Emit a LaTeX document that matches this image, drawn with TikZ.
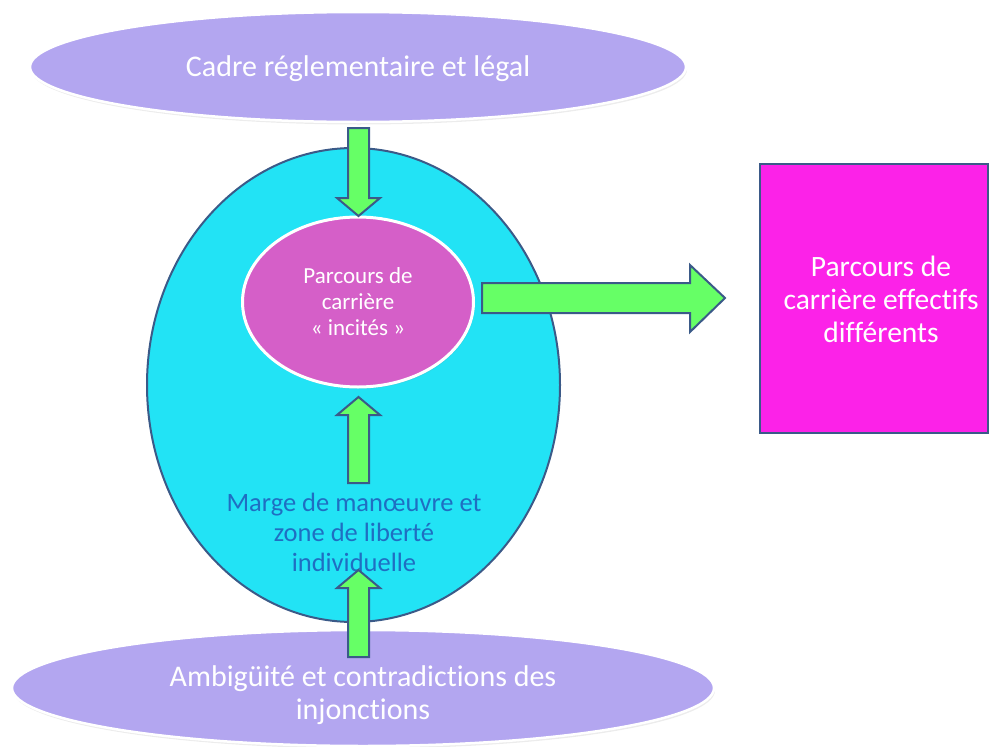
\documentclass[tikz,border=0pt]{standalone}
\usepackage{fontspec}
\setmainfont{Carlito}[Ligatures=NoCommon]
\usetikzlibrary{shapes.geometric,shadows}
\definecolor{lav}{HTML}{B3A6F0}
\definecolor{cyanf}{HTML}{22E3F5}
\definecolor{orchid}{HTML}{D55FC8}
\definecolor{greenf}{HTML}{66FF66}
\definecolor{magf}{HTML}{FC22E8}
\definecolor{edgec}{HTML}{3B5A88}
\definecolor{bluet}{HTML}{1F6EC2}
\begin{document}
\begin{tikzpicture}[x=1pt,y=-1pt,
  outerell/.style={ellipse, fill=lav, draw=white, line width=2.5pt, inner sep=0pt, text=white, align=center,
    drop shadow={opacity=0.15, shadow xshift=1pt, shadow yshift=-2.5pt}},
  blockarrow/.style={fill=greenf, draw=edgec, line width=2pt, line join=miter}]
\useasboundingbox (0,0) rectangle (989,747);
% top ellipse
\node[outerell, minimum width=656pt, minimum height=110pt,
  font=\fontsize{30}{33}\selectfont] (cadre) at (358,67) {};
\node[text=white, font=\fontsize{30}{33}\selectfont] (cadretxt) at (358,68.5) {Cadre réglementaire et légal};
% big cyan ellipse
\node[ellipse, fill=cyanf, draw=edgec, line width=2pt, inner sep=0pt,
  minimum width=413pt, minimum height=474pt] (marge) at (353.5,385) {};
% inner ellipse
\node[ellipse, fill=orchid, draw=white, line width=3pt, inner sep=0pt, text=white, align=center,
  minimum width=231pt, minimum height=170pt,
  drop shadow={opacity=0.15, shadow xshift=1pt, shadow yshift=-2pt},
  font=\fontsize{23}{26}\selectfont] (incites) at (358,302) {Parcours de\\carrière\\« incités »};
% result rectangle
\node[rectangle, fill=magf, draw=edgec, line width=2.5pt, inner sep=0pt,
  minimum width=228pt, minimum height=269pt] (res) at (874,298.5) {};
\node[text=white, align=center, font=\fontsize{29.5}{33}\selectfont] (restext) at (881,299) {Parcours de\\carrière effectifs\\différents};
% bottom ellipse
\node[outerell, minimum width=702pt, minimum height=116pt] (ambig) at (363,688) {};
\node[text=white, align=center, font=\fontsize{30}{33}\selectfont] (ambigtxt) at (363,695)
  {Ambigüité et contradictions des\\injonctions};
% margin text
\node[text=bluet, align=center, font=\fontsize{26.5}{30}\selectfont] (margetxt) at (354,532)
  {Marge de manœuvre et\\zone de liberté\\individuelle};
% arrows
\coordinate (a1s) at (358.5,128); \coordinate (a1e) at (358.5,216);
\coordinate (a2s) at (358.5,483); \coordinate (a2e) at (358.5,397);
\coordinate (a3s) at (358.5,657); \coordinate (a3e) at (358.5,570);
\coordinate (a4s) at (482,298);   \coordinate (a4e) at (725,298);
\draw[blockarrow] (a1s) ++(-10.5,0) -- ++(21,0) -- ++(0,70) -- ++(11,0) -- (a1e) -- ++(-21.5,-18) -- ++(11,0) -- cycle;
\draw[blockarrow] (a2s) ++(-10.5,0) -- ++(21,0) -- ++(0,-68) -- ++(11,0) -- (a2e) -- ++(-21.5,18) -- ++(11,0) -- cycle;
\draw[blockarrow] (a3s) ++(-10.5,0) -- ++(21,0) -- ++(0,-69) -- ++(11,0) -- (a3e) -- ++(-21.5,18) -- ++(11,0) -- cycle;
\draw[blockarrow] (a4s) ++(0,-15) -- ++(208,0) -- ++(0,-18) -- (a4e) -- ++(-35,34) -- ++(0,-19) -- ++(-208,0) -- cycle;
\end{tikzpicture}
\end{document}
